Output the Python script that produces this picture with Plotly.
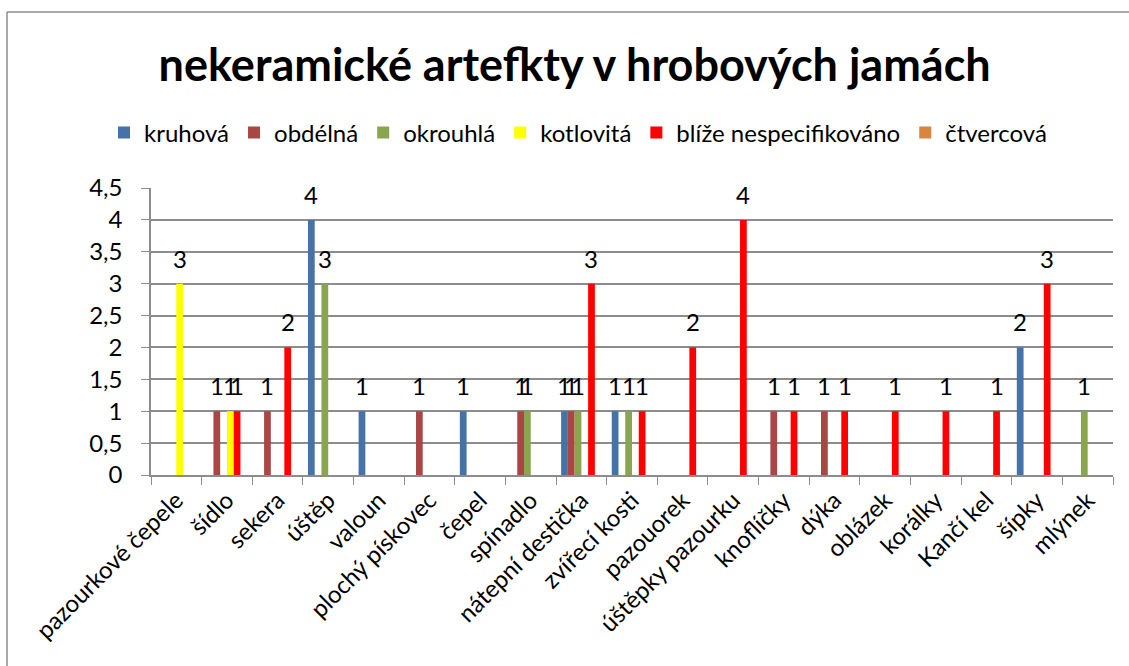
import plotly.graph_objects as go

categories = ["pazourkové čepele", "šídlo", "sekera", "úštěp", "valoun", "plochý pískovec",
              "čepel", "spínadlo", "nátepní destička", "zvířecí kosti", "pazouorek",
              "úštěpky pazourku", "knoflíčky", "dýka", "oblázek", "korálky", "Kančí kel",
              "šípky", "mlýnek"]

N = None
kruhova   = [N, N, N, 4, 1, N, 1, N, 1, 1, N, N, N, N, N, N, N, 2, N]
obdelna   = [N, 1, 1, N, N, 1, N, 1, 1, N, N, N, 1, 1, N, N, N, N, N]
okrouhla  = [N, N, N, 3, N, N, N, 1, 1, 1, N, N, N, N, N, N, N, N, 1]
kotlovita = [3, 1, N, N, N, N, N, N, N, N, N, N, N, N, N, N, N, N, N]
blize     = [N, 1, 2, N, N, N, N, N, 3, 1, 2, 4, 1, 1, 1, 1, 1, 3, N]
ctvercova = [N] * 19

series_names = ["kruhová", "obdélná", "okrouhlá", "kotlovitá", "blíže nespecifikováno", "čtvercová"]
series_vals = [kruhova, obdelna, okrouhla, kotlovita, blize, ctvercova]
colors = ["#4572A7", "#AA4643", "#89A54E", "#FFFF00", "#FF0000", "#DB843D"]

y_tickvals = [0, 0.5, 1, 1.5, 2, 2.5, 3, 3.5, 4, 4.5]
y_ticktext = ["0", "0,5", "1", "1,5", "2", "2,5", "3", "3,5", "4", "4,5"]

FONT = "Lato"
W, H = 1129, 666
ML, MR, MT, MB = 151, 16, 188, 191
pw, ph = W - ML - MR, H - MT - MB
BARGAP = 0.2
n_series = len(series_names)
bar_px = pw / len(categories) * (1 - BARGAP) / n_series

def px_x(p):
    return (p - ML) / pw

def px_y(p):
    return (H - MB - p) / ph

fig = go.Figure()
annotations = []
for i, (name, vals, col) in enumerate(zip(series_names, series_vals, colors)):
    fig.add_trace(go.Bar(
        x=categories, y=vals, name=name, marker_color=col, marker_line_width=0,
    ))
    for c, v in zip(categories, vals):
        if v is None:
            continue
        annotations.append(dict(
            x=c, y=v, xref="x", yref="y", text=f"{v}", showarrow=False,
            xanchor="center", yanchor="bottom", xshift=(i - (n_series - 1) / 2) * bar_px,
            yshift=9, font=dict(family=FONT, size=24, color="#000000"),
        ))

GRID = "#8c8c8c"
fig.update_layout(
    width=W, height=H,
    margin=dict(l=ML, r=MR, t=MT, b=MB),
    paper_bgcolor="white", plot_bgcolor="white",
    barmode="group", bargap=BARGAP, bargroupgap=0,
    title=dict(text="<b>nekeramické artefkty v hrobových jamách</b>",
               x=0.509, xanchor="center", y=1 - 65 / H, yanchor="middle",
               font=dict(family=FONT, size=45, color="#000000")),
    legend=dict(orientation="h", xref="container", x=578 / W, xanchor="center",
                yref="container", y=1 - 133 / H, yanchor="middle",
                font=dict(family=FONT, size=24, color="#000000"), traceorder="normal",
                itemwidth=30),
    font=dict(family=FONT, color="#000000"),
    xaxis=dict(type="category", tickangle=-45, tickson="boundaries", ticks="outside",
               ticklen=8, tickcolor=GRID, showline=True, linecolor=GRID, linewidth=1.5,
               showgrid=False, tickfont=dict(family=FONT, size=24, color="#000000")),
    yaxis=dict(range=[0, 4.5], tickvals=y_tickvals, ticktext=y_ticktext,
               ticks="outside", ticklen=8, tickcolor=GRID, showline=True, linecolor=GRID,
               linewidth=1.5, showgrid=True, gridcolor=GRID, gridwidth=1.5, zeroline=False,
               ticklabelstandoff=14, tickfont=dict(family=FONT, size=24, color="#000000")),
    annotations=annotations,
    shapes=[
        dict(type="line", xref="paper", yref="paper", x0=px_x(7), x1=px_x(W + 5),
             y0=px_y(12), y1=px_y(12), line=dict(color=GRID, width=1.5)),
        dict(type="line", xref="paper", yref="paper", x0=px_x(7), x1=px_x(7),
             y0=px_y(12), y1=px_y(H + 5), line=dict(color=GRID, width=1.5)),
    ],
)

fig.write_html("out.html", config={"displayModeBar": False},
               post_script="document.body.style.margin='0';")
